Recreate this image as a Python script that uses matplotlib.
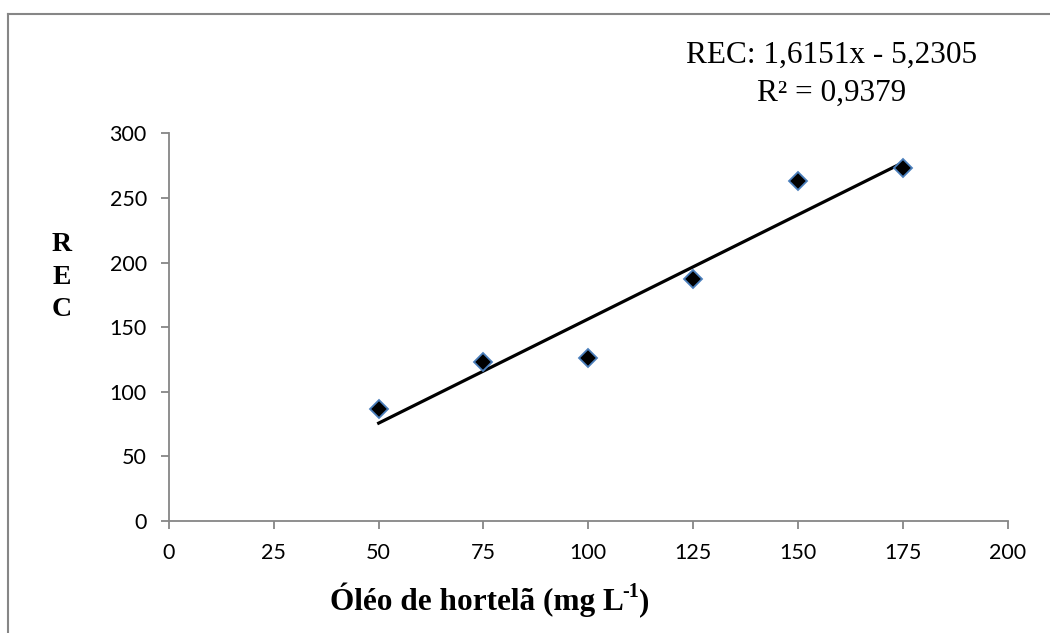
import numpy as np
import matplotlib
matplotlib.use("Agg")
import matplotlib.pyplot as plt
from matplotlib.lines import Line2D

# Dados: concentração de óleo de hortelã e REC
oleo = [50, 75, 100, 125, 150, 175]
rec = [87, 123, 126, 187, 263, 273]
xticks = [0, 25, 50, 75, 100, 125, 150, 175, 200]
yticks = [0, 50, 100, 150, 200, 250, 300]

W, H = 1050, 633
fig = plt.figure(figsize=(10.5, 6.33), dpi=100)
ax = fig.add_axes([0.161, 0.177, 0.7986, 0.6124])

# linha de tendência linear
coef = np.polyfit(oleo, rec, 1)
xl = np.array([min(oleo), max(oleo)])
ax.plot(xl, np.polyval(coef, xl), color="black", lw=2.3, zorder=2)

ax.plot(oleo, rec, linestyle="none", marker="D", markersize=9,
        markerfacecolor="black", markeredgecolor="#4a7ebb",
        markeredgewidth=1.3, zorder=3)

ax.set_xlim(0, 200)
ax.set_ylim(0, 300)
ax.set_xticks(xticks)
ax.set_yticks(yticks)

grey = "#868686"
for s in ["top", "right"]:
    ax.spines[s].set_visible(False)
for s in ["left", "bottom"]:
    ax.spines[s].set_color(grey)
    ax.spines[s].set_linewidth(1.3)
ax.tick_params(direction="out", length=6, width=1.3, color=grey,
               labelsize=15.5, pad=10, labelcolor="black")
for lab in ax.get_xticklabels() + ax.get_yticklabels():
    lab.set_family("Lato")

# rótulo do eixo y (letras empilhadas)
fig.text(62 / W, 1 - 277 / H, "R\nE\nC", ha="center", va="center",
         family="Liberation Serif", weight="bold", fontsize=20, linespacing=1.4)

# rótulo do eixo x, com expoente montado em partes
serif = dict(family="Liberation Serif", weight="bold")
r = fig.canvas.get_renderer()
t1 = fig.text(330 / W, 1 - 610 / H, "Óléo de hortelã (mg L", ha="left",
              va="baseline", fontsize=22.5, **serif)
x1 = t1.get_window_extent(r).x1
t2 = fig.text((x1 - 2) / W, 1 - 597 / H, "-1", ha="left", va="baseline",
              fontsize=14.5, **serif)
x2 = t2.get_window_extent(r).x1
fig.text(x2 / W, 1 - 610 / H, ")", ha="left", va="baseline",
         fontsize=22.5, **serif)

# equação
fig.text(832 / W, 1 - 55 / H, "REC: 1,6151x - 5,2305", ha="center",
         va="center", family="Liberation Serif", fontsize=22.5)
fig.text(832 / W, 1 - 93 / H, "R² = 0,9379", ha="center",
         va="center", family="Liberation Serif", fontsize=22.5)

# moldura do gráfico
fig.add_artist(Line2D([8 / W, 1], [1 - 14 / H, 1 - 14 / H],
                      color=grey, lw=1.5, transform=fig.transFigure))
fig.add_artist(Line2D([8 / W, 8 / W], [0, 1 - 14 / H],
                      color=grey, lw=1.5, transform=fig.transFigure))

fig.savefig("out.png", dpi=100)
